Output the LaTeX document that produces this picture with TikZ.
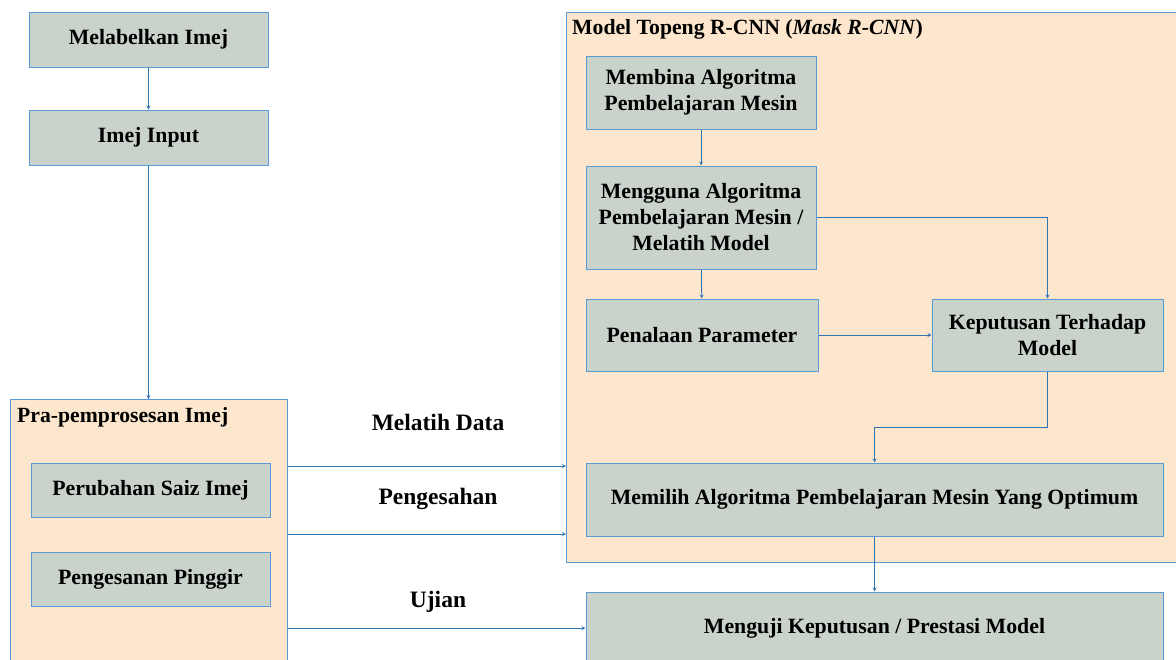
\documentclass[tikz,border=0pt]{standalone}
\usepackage{fontspec}
\setmainfont{Liberation Serif}
\usetikzlibrary{calc}

\definecolor{boxfill}{RGB}{201,211,203}
\definecolor{boxline}{RGB}{91,155,213}
\definecolor{grpfill}{RGB}{252,230,206}
\definecolor{arrowcol}{RGB}{46,117,182}

\tikzset{
	stepbox/.style={draw=boxline,fill=boxfill,line width=1pt,align=center,inner sep=0pt,
		font=\fontsize{21.8}{26}\selectfont\bfseries},
	grpbox/.style={draw=boxline,fill=grpfill,line width=1pt,inner sep=0pt},
	grptitle/.style={anchor=west,inner sep=0pt,font=\fontsize{21.7}{24}\selectfont\bfseries},
	lbl/.style={font=\fontsize{23.5}{26}\selectfont\bfseries},
	flow/.style={->,draw=arrowcol,line width=0.8pt}
}

\begin{document}
\begin{tikzpicture}[>=stealth,x=1pt,y=-1pt]
	\useasboundingbox (0,0) rectangle (1176,659);
	\clip (0,0) rectangle (1176,659);
	\fill[white] (0,0) rectangle (1176,659);
	
	%groups
	\node[grpbox,minimum width=277,minimum height=280,anchor=north west] (pra) at (10,399) {};
	\node[grpbox,minimum width=630,minimum height=550,anchor=north west] (mrcnn) at (566,12) {};
	\node[grptitle] (pratitle) at (17,417) {Pra-pemprosesan Imej};
	\node[grptitle] (mtitle) at (572,29) {Model Topeng R-CNN (\textit{Mask R-CNN})};
	
	%left column
	\node[stepbox,minimum width=239,minimum height=55] (label) at (148.5,39.5) {Melabelkan Imej};
	\node[stepbox,minimum width=239,minimum height=55] (input) at (148.5,137.5) {Imej Input};
	\node[stepbox,minimum width=239,minimum height=54] (saiz) at (150.5,490) {Perubahan Saiz Imej};
	\node[stepbox,minimum width=239,minimum height=54] (pinggir) at (150.5,579) {Pengesanan Pinggir};
	
	%model
	\node[stepbox,minimum width=230,minimum height=73] (bina) at (701,92.5) {Membina Algoritma\\Pembelajaran Mesin};
	\node[stepbox,minimum width=230,minimum height=103] (guna) at (701,217.5) {Mengguna Algoritma\\Pembelajaran Mesin /\\Melatih Model};
	\node[stepbox,minimum width=232,minimum height=72] (tala) at (702,335) {Penalaan Parameter};
	\node[stepbox,minimum width=231,minimum height=72] (putus) at (1047.5,335) {Keputusan Terhadap\\Model};
	\node[stepbox,minimum width=577,minimum height=73] (pilih) at (874.5,499.5) {Memilih Algoritma Pembelajaran Mesin Yang Optimum};
	\node[stepbox,minimum width=577,minimum height=72] (uji) at (874.5,628) {Menguji Keputusan / Prestasi Model};
	
	%labels
	\node[lbl] (latih) at (438,422) {Melatih Data};
	\node[lbl] (sah) at (438,499) {Pengesahan};
	\node[lbl] (ujian) at (438,602) {Ujian};
	
	%arrows
	\draw[flow] (label) -- (input);
	\draw[flow] (input) -- (input |- pra.north);
	\draw[flow] (bina) -- (guna);
	\draw[flow] (guna) -- (tala);
	\draw[flow] (guna.east) -| (putus.north);
	\draw[flow] (tala) -- (putus);
	\draw[flow] (putus.south) -- ++(0,56) -| (pilih.north);
	\draw[flow] (pilih) -- (uji);
	\draw[flow] (pra.east |- 0,466) -- (mrcnn.west |- 0,466);
	\draw[flow] (pra.east |- 0,534) -- (mrcnn.west |- 0,534);
	\draw[flow] (pra.east |- uji) -- (uji);
\end{tikzpicture}
\end{document}
